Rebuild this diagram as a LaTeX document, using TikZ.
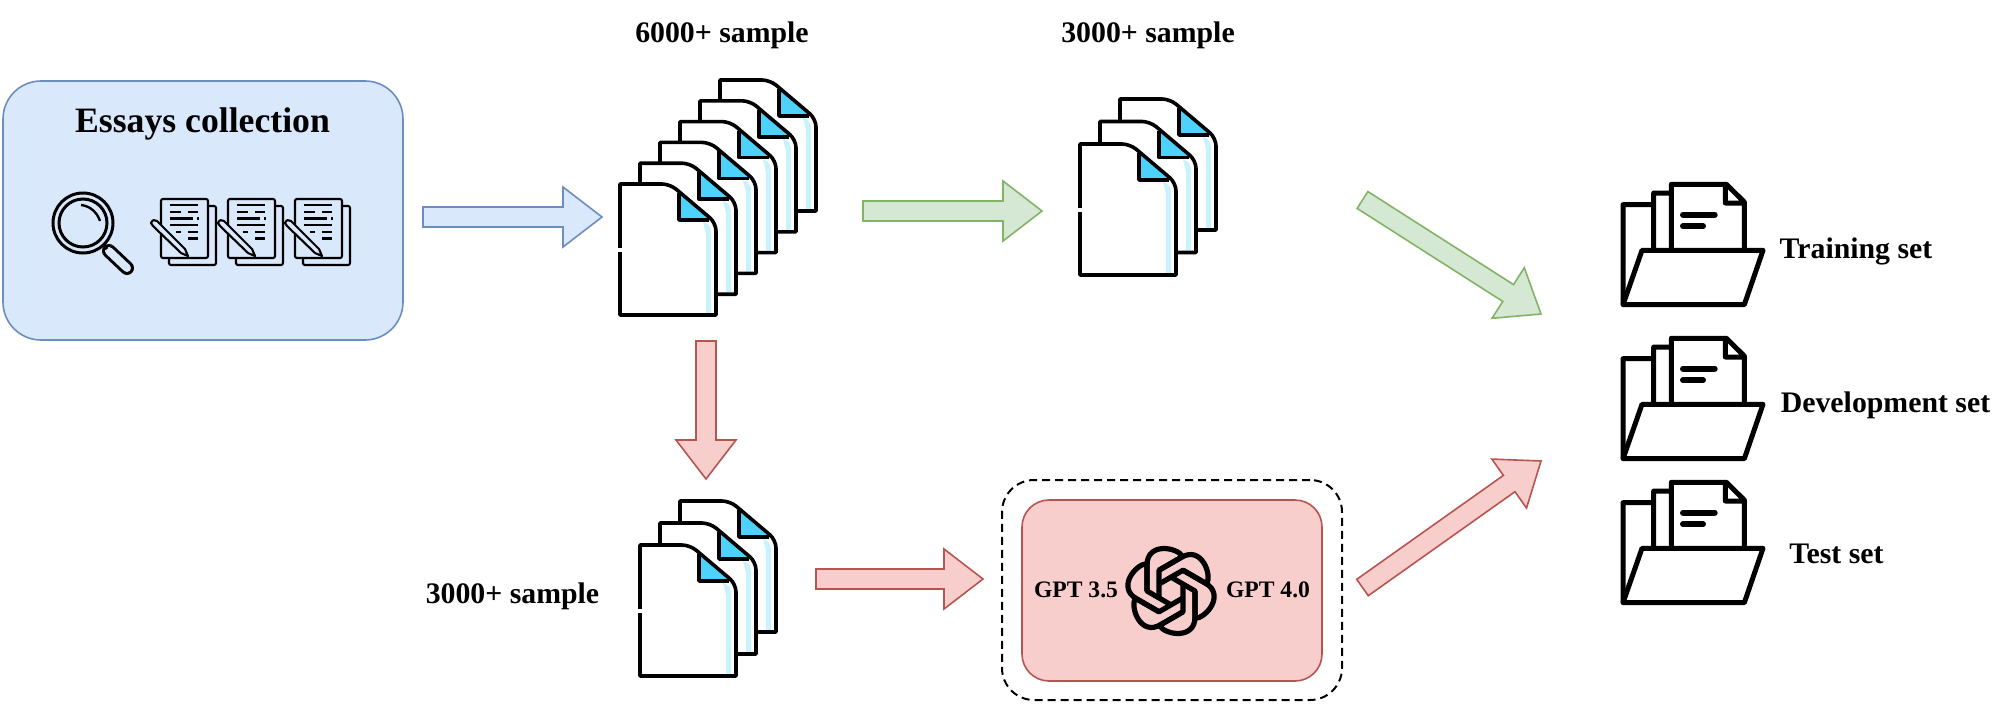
\documentclass[tikz,border=0pt]{standalone}
\usepackage{fontspec}
\setmainfont{Liberation Serif}
\usetikzlibrary{calc}
\definecolor{blueFill}{HTML}{DAE8FC}
\definecolor{blueLine}{HTML}{6C8EBF}
\definecolor{greenFill}{HTML}{D5E8D4}
\definecolor{greenLine}{HTML}{82B366}
\definecolor{redFill}{HTML}{F8CECC}
\definecolor{redLine}{HTML}{B85450}
\definecolor{foldBlue}{HTML}{4CD2FC}
\definecolor{stripBlue}{HTML}{C9F1FE}
\tikzset{
    blockArrow/.style={
        line width=1.6pt,
        to path={
            ($(\tikztotarget)!39pt!(\tikztostart)$) coordinate (neck)
            ($(\tikztostart)!10pt!90:(neck)$) -- ($(neck)!10pt!-90:(\tikztostart)$)
            -- ($(neck)!30pt!-90:(\tikztostart)$) -- (\tikztotarget)
            -- ($(neck)!30pt!90:(\tikztostart)$) -- ($(neck)!10pt!90:(\tikztostart)$)
            -- ($(\tikztostart)!10pt!-90:(neck)$) -- cycle
        }
    },
    blueFlow/.style={blockArrow, draw=blueLine, fill=blueFill},
    greenFlow/.style={blockArrow, draw=greenLine, fill=greenFill},
    redFlow/.style={blockArrow, draw=redLine, fill=redFill},
    bigLabel/.style={anchor=base, font=\fontsize{35.7pt}{38pt}\selectfont\bfseries},
    setLabel/.style={anchor=base, font=\fontsize{29.8pt}{32pt}\selectfont\bfseries},
    gptLabel/.style={anchor=base, font=\fontsize{23.6pt}{26pt}\selectfont\bfseries},
    logoLine/.style={line width=5.2pt, line join=round},
    paperDoc/.pic={
        \fill[white] (0,0) -- (50,0) -- (96,39) -- (96,131) -- (0,131) -- cycle;
        \fill[stripBlue] (83,38) .. controls (89,39) and (91,44) .. (91,50) -- (91,129) -- (86,129) -- (86,50) -- cycle;
        \fill[foldBlue] (59,9) -- (59,36) -- (90,36) -- cycle;
        \draw[line width=3.6pt, line join=round] (59,9) -- (59,36) -- (89,36);
        \draw[line width=3.6pt, line join=round]
            (0,0) [rounded corners=8pt] -- (50,0) -- (96,39) -- (96,60) [sharp corners]
            -- (96,131) -- (0,131) -- cycle;
        \draw[line width=5pt, white] (0,64) -- (0,67.5);
    },
    noteDoc/.pic={
        \draw[line width=2.1pt, rounded corners=2pt] (48,7) -- (56,7) -- (56,66) -- (9,66) -- (9,59);
        \draw[line width=2.1pt, rounded corners=2pt] (1,0) rectangle (48,59);
        \foreach \ya/\xa/\xb in {6/10/38, 13/10/21, 13/28/38, 19.5/10/33, 19.5/37/39, 26/10/38, 33/16/21, 33/28/38, 39.5/28/38}{
            \draw[line width=2.1pt] (\xa,\ya) -- (\xb,\ya);
        }
        \draw[line width=2.1pt, fill=blueFill, line join=round]
            (-9,24) .. controls (-8,21) and (-5,20) .. (-3,22) -- (25,50) -- (28,57) -- (21,54) -- (-7,27) -- cycle;
    },
    openFolder/.pic={
        \draw[line width=5pt, line join=round, fill=white]
            (2,122.7) -- (2,22.7) -- (31,22.7) (32.7,68.3) -- (32.7,11) -- (50.3,11)
            (50.3,68.3) -- (50.3,2.3) -- (105.3,2.3) -- (123.3,20) -- (123.3,68.3)
            (104.3,2.3) -- (104.3,21) -- (123.3,21);
        \draw[line width=6pt, line cap=round] (62,32.7) -- (93.7,32.7) (62,44.3) -- (82,44.3);
        \draw[line width=5pt, line join=round, fill=white]
            (21,68.3) -- (142,68.3) -- (123.3,122.7) -- (2,122.7) -- cycle;
    },
}
\begin{document}
\begin{tikzpicture}[x=1pt,y=-1pt]
    \useasboundingbox (0,0) rectangle (2009,709);

    % essays box
    \node[draw=blueLine, fill=blueFill, line width=1.6pt, rounded corners=38pt,
        minimum width=400pt, minimum height=259pt] (essayBox) at (203,210.5) {};
    \node[bigLabel] (essayTitle) at (202.5,132.7) {Essays collection};
    \draw[line width=3pt] (83,223) circle (30);
    \draw[line width=3pt] (83,223) circle (24);
    \draw[line width=2.4pt] (81,205) .. controls (90,206) and (97,212) .. (100,221);
    \draw[line width=14pt, line cap=round] (109,251) -- (127,268);
    \draw[line width=8pt, line cap=round, blueFill] (109,251) -- (127,268);
    \draw[line width=3pt] (103,244) -- (107,249);
    \foreach \x in {160,227,294}{
        \pic at (\x,199) {noteDoc};
    }

    % document stacks
    \foreach \i in {5,4,...,0}{
        \pic at ({620+20*\i},{184-20.8*\i}) {paperDoc};
    }
    \foreach \i in {2,1,0}{
        \pic at ({1080+20*\i},{144-22.5*\i}) {paperDoc};
        \pic at ({640+20*\i},{545-22*\i}) {paperDoc};
    }
    \node[setLabel] (allLabel) at (722,42.7) {6000+ sample};
    \node[setLabel] (upperLabel) at (1148,42.7) {3000+ sample};
    \node[setLabel] (lowerLabel) at (512.5,603) {3000+ sample};

    % gpt box
    \node[draw, dashed, dash pattern=on 8pt off 5pt, line width=2pt, rounded corners=32pt,
        minimum width=340pt, minimum height=220pt] (gptOuter) at (1172,590) {};
    \node[draw=redLine, fill=redFill, line width=1.6pt, rounded corners=27pt,
        minimum width=300pt, minimum height=181pt] (gptBox) at (1172,590.5) {};
    \node[gptLabel] (gptLeft) at (1076,597.5) {GPT 3.5};
    \node[gptLabel] (gptRight) at (1268,597.5) {GPT 4.0};
    \foreach \a in {0,60,...,300}{
        \draw[logoLine, shift={(1171,591)}, rotate=\a]
            (-12,6.9) -- (-12,-20.8) -- (11.7,-34.5)
            .. controls (6,-44) and (-24,-49) .. (-24,-26) -- (-24,0);
    }

    % folders
    \foreach \y in {182,336,480}{
        \pic at (1621,\y) {openFolder};
    }
    \node[setLabel] (trainLabel) at (1856,258.7) {Training set};
    \node[setLabel] (devLabel) at (1885.5,412.7) {Development set};
    \node[setLabel] (testLabel) at (1836.5,563.7) {Test set};

    % arrows
    \coordinate (blueTail) at (423,217);
    \coordinate (blueTip) at (602,217);
    \coordinate (greenTail) at (863,211);
    \coordinate (greenTip) at (1042,211);
    \coordinate (downTail) at (706,341);
    \coordinate (downTip) at (706,479);
    \coordinate (redTail) at (816,579);
    \coordinate (redTip) at (983,579);
    \coordinate (trainTail) at (1362.5,200);
    \coordinate (trainTip) at (1541,314);
    \coordinate (upTail) at (1362.5,587.5);
    \coordinate (upTip) at (1541,461);
    \draw[blueFlow] (blueTail) to (blueTip);
    \draw[greenFlow] (greenTail) to (greenTip);
    \draw[redFlow] (downTail) to (downTip);
    \draw[redFlow] (redTail) to (redTip);
    \draw[greenFlow] (trainTail) to (trainTip);
    \draw[redFlow] (upTail) to (upTip);
\end{tikzpicture}
\end{document}
